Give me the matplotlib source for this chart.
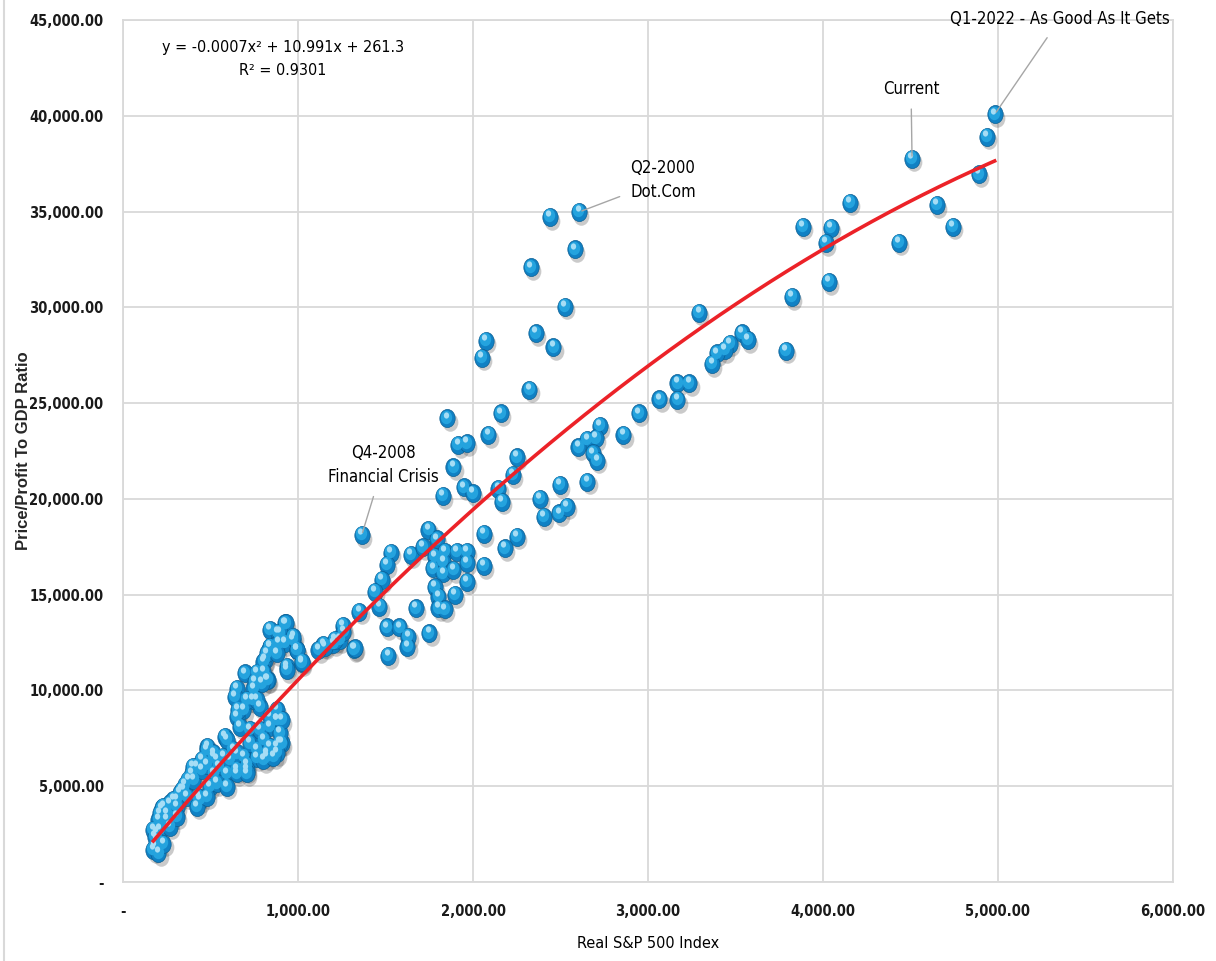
import numpy as np
import matplotlib
matplotlib.use('Agg')
import matplotlib.pyplot as plt
from matplotlib import font_manager as fm
from matplotlib.path import Path
from matplotlib.transforms import Affine2D, offset_copy
from matplotlib.ticker import FuncFormatter, MultipleLocator
from matplotlib.lines import Line2D

# data (real S&P 500 index vs price/profit-to-GDP ratio)
sp_real = [
    # upper range
    3884, 4046, 4015, 4154, 3823, 4034, 3789, 4509, 4434, 4650, 4743, 4891,
    4935, 4981, 3293, 3535, 3570, 3469, 3440, 3392, 3367, 3236, 3168, 3168,
    3065, 2949, 2859, 2726, 2703, 2653, 2602, 2684, 2710, 2653, 2497, 2526,
    # dot.com zone
    2440, 2607, 2581, 2330, 2360, 2459, 2074, 2051, 2322, 2160, 1853, 2088,
    1916, 1964, 1888, 2250, 2227, 1949, 1998, 1827, 2145, 2164, 2383, 2406,
    2493, 2535,
    # 2008 zone
    1364, 1745, 1793, 2063, 2250, 2183, 2063, 1530, 1644, 1713, 1783, 1840,
    1907, 1964, 1964, 1830, 1773, 1830, 1888, 1507, 1478, 1440, 1465, 1964,
    1897, 1783, 1802, 1802, 1840, 1674, 1350, 1507, 1579, 1630, 1625, 1750,
    1516, 1320, 1255, 1202, 1145, 1240, 1259, 1211, 1154, 1116, 1326,
    # dense low cluster
    926, 840, 886, 971, 926, 840, 994, 811, 937, 1023, 766, 829,
    931, 1021, 935, 802, 697, 650, 745, 821, 688, 783, 650, 878,
    840, 726, 583, 764, 821, 878, 907, 688, 630, 482, 516, 450,
    421, 392, 545, 593, 707, 497, 430, 345, 373, 269, 221, 250,
    202, 173, 183, 193, 307, 516, 657, 743, 880, 897, 880, 823,
    766, 709, 651, 594, 480, 400, 337, 440, 211, 194,
    230, 288, 326, 354, 402, 450, 478, 535, 573, 611, 650, 726,
    802, 840, 897, 878, 907, 783, 669, 707, 764, 840, 640, 802,
    840, 888, 897, 992, 973, 754, 821, 878, 793, 516, 364, 307,
    250, 211, 183, 173, 202, 230, 269, 307, 421, 478, 535, 593,
    650, 707, 802, 859,
]
ratio = [
    34200, 34150, 33350, 35460, 30540, 31320, 27730, 37750, 33370, 35340, 34200, 36940,
    38900, 40070, 29720, 28640, 28290, 28110, 27770, 27590, 27040, 26030, 26030, 25160,
    25190, 24460, 23330, 23800, 23160, 23070, 22690, 22370, 21990, 20890, 20720, 30030,
    34720, 34980, 33020, 32080, 28640, 27910, 28250, 27370, 25710, 24460, 24200, 23330,
    22810, 22900, 21650, 22170, 21250, 20600, 20290, 20150, 20540, 19850, 20020, 19060,
    19240, 19590,
    18110, 18400, 17880, 18170, 18030, 17420, 16500, 17190, 17070, 17470, 16990, 17240,
    17240, 17240, 16670, 16720, 16370, 16110, 16290, 16550, 15760, 15150, 14370, 15670,
    14980, 15380, 14890, 14290, 14230, 14290, 14110, 13290, 13290, 12800, 12280, 12980,
    11800, 12150, 13360, 12450, 12370, 12630, 13060, 12630, 12280, 12110, 12190,
    13500, 13150, 13000, 12630, 12470, 12280, 12110, 11590, 11230, 11430, 10910, 10540,
    13500, 11500, 11070, 11500, 10890, 10100, 10100, 10540, 8980, 9150, 8620, 8460,
    8110, 7930, 7580, 6890, 6710, 7060, 7240, 6540, 6890, 7060, 6540, 6370,
    6010, 5670, 6010, 5670, 6110, 4970, 4450, 4800, 5320, 4100, 3840, 3580,
    3240, 2710, 1840, 2190, 4280, 5670, 8980, 9500, 8460, 7260, 6730, 6530,
    6470, 5850, 5850, 7410, 6890, 6010, 4800, 4280, 3580, 2560,
    3930, 4280, 4630, 5060, 5320, 5850, 6110, 6370, 6540, 6370, 6710, 7240,
    7410, 7060, 7760, 8980, 8460, 7930, 8110, 9500, 9500, 8620, 9670, 10980,
    12280, 12460, 12980, 12110, 12800, 10450, 11930, 11930, 10370, 6710, 4450, 3930,
    3240, 2710, 2360, 1670, 1500, 2010, 2880, 3400, 3930, 4450, 5150, 4970,
    5670, 5670, 6370, 6540,
]

# trendline printed on the chart
trend_coef = [-0.0007, 10.991, 261.3]
trend_r2 = 0.9301

# labelled points: text, point x, point y, text x, text y
callouts = [
    ('Q1-2022 - As Good As It Gets', 4981, 40070, 5354, 45050),
    ('Current', 4509, 37750, 4503, 41400),
    ('Q2-2000\nDot.Com', 2607, 34980, 3086, 36640),
    ('Q4-2008\nFinancial Crisis', 1364, 18110, 1486, 21770),
]

# pick a narrow face if one is around, else shrink the regular one
narrow = None
for fam, st in [('Liberation Sans Narrow', 'normal'), ('DejaVu Sans', 'condensed')]:
    try:
        f = fm.findfont(fm.FontProperties(family=fam, stretch=st), fallback_to_default=False)
        if 'Narrow' in f or 'Condensed' in f:
            narrow = (fam, st)
            break
    except Exception:
        pass

if narrow:
    plt.rcParams['font.family'] = [narrow[0], 'DejaVu Sans']
    plt.rcParams['font.stretch'] = narrow[1]
    k = 1.0
else:
    plt.rcParams['font.family'] = ['Liberation Sans', 'DejaVu Sans']
    k = 0.95

fig = plt.figure(figsize=(12.16, 9.61), dpi=100)
ax = fig.add_axes([0.1012, 0.0822, 0.8634, 0.8970])

grid_c = '#d9d9d9'
ax.set_xlim(0, 6000)
ax.set_ylim(0, 45000)
ax.xaxis.set_major_locator(MultipleLocator(1000))
ax.yaxis.set_major_locator(MultipleLocator(5000))
ax.grid(True, color=grid_c, lw=1.3, zorder=0)
ax.set_axisbelow(True)
for s in ax.spines.values():
    s.set_color(grid_c)
    s.set_linewidth(1.3)

fmt = FuncFormatter(lambda v, p: '-' if v == 0 else f'{v:,.2f}')
ax.xaxis.set_major_formatter(fmt)
ax.yaxis.set_major_formatter(fmt)
ax.tick_params(length=0, labelsize=10.5 * k, colors='#1a1a1a')
ax.tick_params(axis='y', pad=14)
ax.tick_params(axis='x', pad=16)
for lb in ax.get_xticklabels() + ax.get_yticklabels():
    lb.set_fontweight('bold')

ax.set_xlabel('Real S&P 500 Index', fontsize=11.6 * k, labelpad=12)
ax.set_ylabel('Price/Profit To GDP Ratio', fontsize=12, fontweight='bold',
              family=['Liberation Sans', 'DejaVu Sans'], fontstretch='normal',
              color='#262626')
ax.yaxis.set_label_coords(-0.088, 0.5)

# sphere-like markers: slightly tall ellipse, shadow + body + highlights
ell = Path.unit_circle().transformed(Affine2D().scale(1.0, 1.18))
sz = 170
ax.scatter(sp_real, ratio, s=sz * 1.05, marker=ell, c='#444444', alpha=0.28,
           linewidths=0, zorder=2,
           transform=offset_copy(ax.transData, fig, 1.6, -2.6, units='points'))
ax.scatter(sp_real, ratio, s=sz, marker=ell, c='#1081c4', edgecolors='#0b5f93',
           linewidths=0.5, zorder=3)
ax.scatter(sp_real, ratio, s=sz * 0.55, marker=ell, c='#24a3de', linewidths=0,
           zorder=4, transform=offset_copy(ax.transData, fig, -0.6, 1.2, units='points'))
ax.scatter(sp_real, ratio, s=sz * 0.12, marker=ell, c='#a6ddf5', linewidths=0,
           zorder=5, transform=offset_copy(ax.transData, fig, -1.2, 2.8, units='points'))

# trendline
xt = np.linspace(min(sp_real), max(sp_real), 200)
ax.plot(xt, np.polyval(trend_coef, xt), color='#ec2228', lw=2.6, zorder=6)

eq = (f'y = {trend_coef[0]}x² + {trend_coef[1]}x + {trend_coef[2]}\n'
      f'R² = {trend_r2}')
ax.text(914, 42960, eq, ha='center', va='center', fontsize=11.5 * k,
        linespacing=1.65, zorder=7)

for txt, px, py, tx, ty in callouts:
    ax.annotate(txt, xy=(px, py), xytext=(tx, ty), ha='center', va='center',
                fontsize=12 * k, linespacing=1.4, annotation_clip=False, zorder=7,
                arrowprops=dict(arrowstyle='-', color='#a6a6a6', lw=1.0,
                                shrinkA=6, shrinkB=2))

fig.add_artist(Line2D([0.003, 0.003], [0, 1], color=grid_c, lw=1.5))

fig.savefig('out.png', dpi=100)
